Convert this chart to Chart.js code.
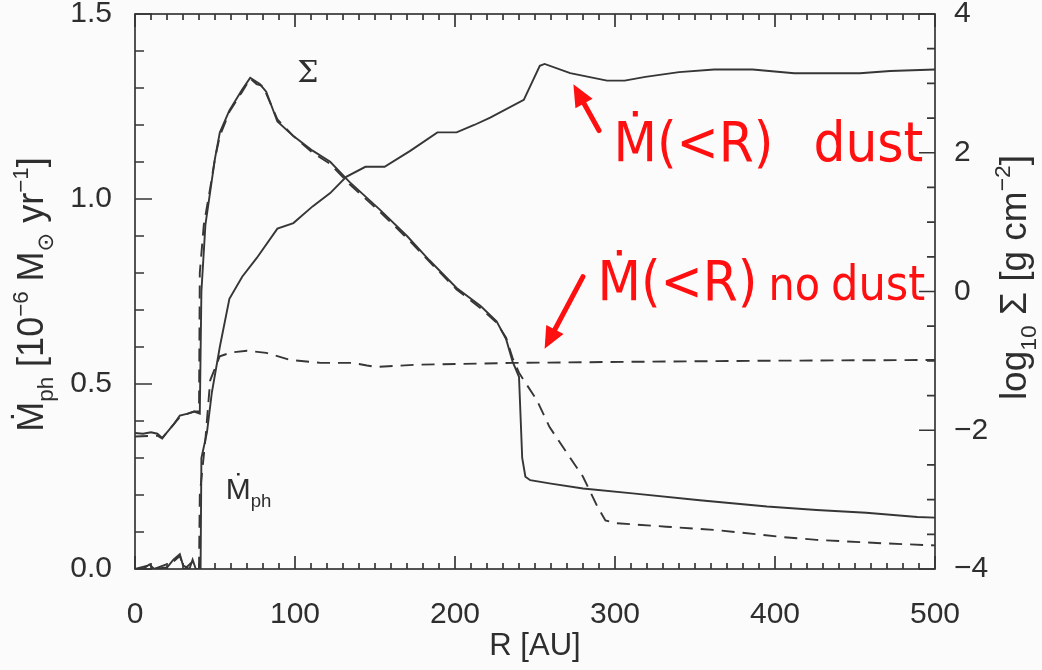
<!DOCTYPE html>
<html>
<head>
<meta charset="utf-8">
<script src="https://cdn.jsdelivr.net/npm/chart.js@4.4.1/dist/chart.umd.min.js"></script>
<style>
  html, body { margin: 0; padding: 0; background: #fbfbfc; }
  #wrap { width: 1042px; height: 670px; }
</style>
</head>
<body>
<div id="wrap"><canvas id="plot"></canvas></div>
<script>
// Surface density, log10 Sigma [g cm^-2] (right axis)
const sigmaDustR = [0, 5, 10, 14, 17, 20, 24, 28, 33, 37, 40.5, 41.5, 44, 47, 50, 53, 59, 67, 72, 78, 82, 89, 99, 111, 122, 134, 153, 170, 184, 201, 216, 226, 232, 236, 240, 242, 244, 247, 260, 280, 311, 353, 395, 426, 457, 489, 500];
const sigmaDust = [-2.04, -2.05, -2.03, -2.05, -2.11, -2.03, -1.92, -1.79, -1.76, -1.73, -1.76, 0.0, 0.96, 1.44, 1.92, 2.29, 2.61, 2.91, 3.08, 2.99, 2.88, 2.45, 2.24, 2.03, 1.87, 1.58, 1.18, 0.80, 0.45, 0.05, -0.21, -0.43, -0.69, -1.01, -1.23, -2.40, -2.67, -2.72, -2.77, -2.84, -2.91, -3.01, -3.10, -3.15, -3.19, -3.25, -3.26];

const sigmaNoDustR = [0, 10, 14, 17, 20, 24, 28, 33, 37, 40, 40.5, 43, 47, 50, 53, 59, 67, 72, 76, 80, 89, 99, 111, 122, 134, 153, 170, 184, 201, 216, 226, 232, 236, 240, 243, 251, 259, 270, 280, 289, 294, 301, 332, 364, 405, 426, 468, 500];
const sigmaNoDust = [-2.09, -2.08, -2.08, -2.12, -2.03, -1.92, -1.81, -1.76, -1.73, -1.73, 0.27, 0.96, 1.49, 1.92, 2.24, 2.59, 2.88, 3.07, 2.99, 2.96, 2.48, 2.24, 2.00, 1.84, 1.55, 1.15, 0.77, 0.43, 0.03, -0.24, -0.45, -0.67, -0.96, -1.17, -1.28, -1.56, -1.95, -2.33, -2.67, -3.10, -3.30, -3.34, -3.39, -3.44, -3.54, -3.58, -3.63, -3.66];

// Cumulative photoevaporation rate Mdot(<R) [1e-6 Msun/yr] (left axis)
const mdotDustR = [0, 5, 9, 12, 20, 24, 28, 30, 34, 36, 38, 41, 41.5, 45, 48, 53, 59, 67, 76, 89, 99, 111, 122, 132, 144, 156, 172, 189, 201, 212, 222, 243, 253, 256, 272, 295, 306, 319, 340, 362, 386, 412, 453, 472, 500];
const mdotDust = [0.0, 0.0, 0.012, 0.0, 0.004, 0.025, 0.04, 0.01, 0.0, 0.025, 0.0, 0.0, 0.30, 0.37, 0.476, 0.60, 0.73, 0.79, 0.84, 0.92, 0.935, 0.98, 1.016, 1.06, 1.087, 1.087, 1.13, 1.18, 1.18, 1.20, 1.22, 1.268, 1.36, 1.365, 1.34, 1.32, 1.32, 1.33, 1.343, 1.35, 1.35, 1.34, 1.34, 1.346, 1.35];

const mdotNoDustR = [0, 9, 12, 24, 28, 31, 36, 39.5, 40, 40.5, 44, 47, 53, 60, 70, 82, 97, 116, 136, 145, 151, 175, 236, 309, 400, 500];
const mdotNoDust = [0.0, 0.01, 0.0, 0.02, 0.035, 0.0, 0.02, 0.0, 0.0, 0.20, 0.35, 0.51, 0.575, 0.585, 0.59, 0.584, 0.565, 0.557, 0.557, 0.55, 0.546, 0.552, 0.557, 0.56, 0.563, 0.565];

const xTicks = [0, 100, 200, 300, 400, 500];
const yTicks = [0.0, 0.5, 1.0, 1.5];
const y2Ticks = [-4, -2, 0, 2, 4];

const ink = '#363636';
const red = '#ff0f0f';
const tickFont = { family: 'Liberation Sans, Arial, sans-serif', size: 30 };

function pairs(xs, ys) {
    return xs.map((r, i) => ({ x: r, y: ys[i] }));
}

function curve(xs, ys, axis, dashed) {
    return {
        data: pairs(xs, ys),
        yAxisID: axis,
        borderColor: ink,
        borderWidth: 1.9,
        borderDash: dashed ? [13, 8] : [],
        pointRadius: 0,
        showLine: true,
        fill: false,
        tension: 0
    };
}

// text with sub/superscripts, drawn centred on (x, y) and rotated
function drawRich(ctx, parts, x, y, angle, size, family) {
    ctx.save();
    ctx.translate(x, y);
    ctx.rotate(angle);
    ctx.textBaseline = 'alphabetic';
    ctx.textAlign = 'left';
    let total = 0;
    parts.forEach(p => {
        const s = p[1] ? size * 0.62 : size;
        ctx.font = s + 'px ' + family;
        total += ctx.measureText(p[0]).width;
    });
    let cx = -total / 2;
    parts.forEach(p => {
        const s = p[1] ? size * 0.62 : size;
        const dy = p[1] === 'sub' ? size * 0.28 : p[1] === 'sup' ? -size * 0.42 : 0;
        ctx.font = s + 'px ' + family;
        ctx.fillText(p[0], cx, dy);
        cx += ctx.measureText(p[0]).width;
    });
    ctx.restore();
}

function arrow(ctx, x0, y0, x1, y1) {
    const ang = Math.atan2(y1 - y0, x1 - x0);
    const head = 24;
    ctx.beginPath();
    ctx.moveTo(x0, y0);
    ctx.lineTo(x1 - Math.cos(ang) * head * 0.7, y1 - Math.sin(ang) * head * 0.7);
    ctx.stroke();
    ctx.beginPath();
    ctx.moveTo(x1, y1);
    ctx.lineTo(x1 - head * Math.cos(ang - 0.42), y1 - head * Math.sin(ang - 0.42));
    ctx.lineTo(x1 - head * Math.cos(ang + 0.42), y1 - head * Math.sin(ang + 0.42));
    ctx.closePath();
    ctx.fill();
}

const frame = {
    id: 'frame',
    afterDraw(chart) {
        const ctx = chart.ctx;
        const a = chart.chartArea;
        const sx = chart.scales.x, sy = chart.scales.y, sy2 = chart.scales.y2;
        ctx.save();
        ctx.strokeStyle = ink;
        ctx.lineWidth = 1.7;
        ctx.strokeRect(a.left, a.top, a.right - a.left, a.bottom - a.top);

        // inward ticks, x on bottom and top
        ctx.beginPath();
        for (let r = 0; r <= 500; r += 10) {
            const px = sx.getPixelForValue(r);
            const len = r % 100 === 0 ? 13 : 6;
            ctx.moveTo(px, a.bottom); ctx.lineTo(px, a.bottom - len);
            ctx.moveTo(px, a.top); ctx.lineTo(px, a.top + len);
        }
        // left axis, minor every 0.1
        for (let i = 0; i <= 15; i++) {
            const py = sy.getPixelForValue(i / 10);
            const len = i % 5 === 0 ? 17 : 9;
            ctx.moveTo(a.left, py); ctx.lineTo(a.left + len, py);
        }
        // right axis, minor every 0.5
        for (let i = -8; i <= 8; i++) {
            const py = sy2.getPixelForValue(i / 2);
            const len = i % 4 === 0 ? 16 : 8;
            ctx.moveTo(a.right, py); ctx.lineTo(a.right - len, py);
        }
        ctx.stroke();

        // axis titles
        ctx.fillStyle = '#2e2e2e';
        const fam = 'Liberation Sans, DejaVu Sans, sans-serif';
        drawRich(ctx, [['R [AU]']], (a.left + a.right) / 2, a.bottom + 86, 0, 31, fam);
        drawRich(ctx, [['Ṁ'], ['ph', 'sub'], [' [10'], ['−6', 'sup'], [' M'], ['⊙', 'sub'], [' yr'], ['−1', 'sup'], [']']],
            a.left - 92, (a.top + a.bottom) / 2 + 3, -Math.PI / 2, 36, fam);
        drawRich(ctx, [['log'], ['10', 'sub'], [' Σ [g cm'], ['−2', 'sup'], [']']],
            a.right + 91, (a.top + a.bottom) / 2 - 14, -Math.PI / 2, 37, fam);

        // curve labels
        drawRich(ctx, [['Σ']], sx.getPixelForValue(108), sy.getPixelForValue(1.315), 0, 30, 'DejaVu Serif, serif');
        drawRich(ctx, [['Ṁ'], ['ph', 'sub']], sx.getPixelForValue(71), sy.getPixelForValue(0.19), 0, 30, fam);

        // red notes, placed word by word
        ctx.fillStyle = red;
        ctx.strokeStyle = red;
        ctx.lineWidth = 5;
        ctx.lineCap = 'round';
        const hand = 'DejaVu Sans Condensed, DejaVu Sans, sans-serif';
        ctx.textAlign = 'left';
        ctx.textBaseline = 'alphabetic';
        const line1 = sy.getPixelForValue(1.103);
        const line2 = sy.getPixelForValue(0.727);
        ctx.font = '56px ' + hand;
        ctx.fillText('Ṁ(<R)', sx.getPixelForValue(299), line1);
        ctx.fillText('dust', sx.getPixelForValue(424), line1);
        ctx.fillText('Ṁ(<R)', sx.getPixelForValue(289), line2);
        ctx.font = '46px ' + hand;
        ctx.fillText('no', sx.getPixelForValue(396), line2);
        ctx.font = '48px ' + hand;
        ctx.fillText('dust', sx.getPixelForValue(435), line2);
        arrow(ctx, sx.getPixelForValue(290), sy.getPixelForValue(1.185), sx.getPixelForValue(274), sy.getPixelForValue(1.31));
        arrow(ctx, sx.getPixelForValue(280), sy.getPixelForValue(0.79), sx.getPixelForValue(256), sy.getPixelForValue(0.595));
        ctx.restore();
    }
};

function fixSize(prop, value) {
    return function (scale) {
        scale[prop] = value;
        scale.paddingTop = 0;
        scale.paddingBottom = 0;
        scale.paddingLeft = 0;
        scale.paddingRight = 0;
    };
}

new Chart(document.getElementById('plot'), {
    type: 'scatter',
    data: {
        datasets: [
            curve(sigmaDustR, sigmaDust, 'y2', false),
            curve(sigmaNoDustR, sigmaNoDust, 'y2', true),
            curve(mdotDustR, mdotDust, 'y', false),
            curve(mdotNoDustR, mdotNoDust, 'y', true)
        ]
    },
    options: {
        responsive: true,
        maintainAspectRatio: false,
        animation: false,
        layout: { padding: { top: 14, left: 0, right: 0, bottom: 0 } },
        plugins: {
            legend: { display: false },
            tooltip: { enabled: false }
        },
        scales: {
            x: {
                type: 'linear',
                min: 0,
                max: 500,
                grid: { display: false },
                border: { display: false },
                afterBuildTicks: s => { s.ticks = xTicks.map(v => ({ value: v })); },
                ticks: { color: '#2e2e2e', font: tickFont, padding: 20, maxRotation: 0 },
                afterFit: fixSize('height', 101)
            },
            y: {
                position: 'left',
                min: 0,
                max: 1.5,
                grid: { display: false },
                border: { display: false },
                afterBuildTicks: s => { s.ticks = yTicks.map(v => ({ value: v })); },
                ticks: { color: '#2e2e2e', font: tickFont, padding: 15, callback: v => v.toFixed(1) },
                afterFit: fixSize('width', 135)
            },
            y2: {
                position: 'right',
                min: -4,
                max: 4,
                grid: { display: false },
                border: { display: false },
                afterBuildTicks: s => { s.ticks = y2Ticks.map(v => ({ value: v })); },
                ticks: { color: '#2e2e2e', font: tickFont, padding: 11, callback: v => (v < 0 ? '\u2212' : '') + Math.abs(v) },
                afterFit: fixSize('width', 107)
            }
        }
    },
    plugins: [frame]
});
</script>
</body>
</html>
